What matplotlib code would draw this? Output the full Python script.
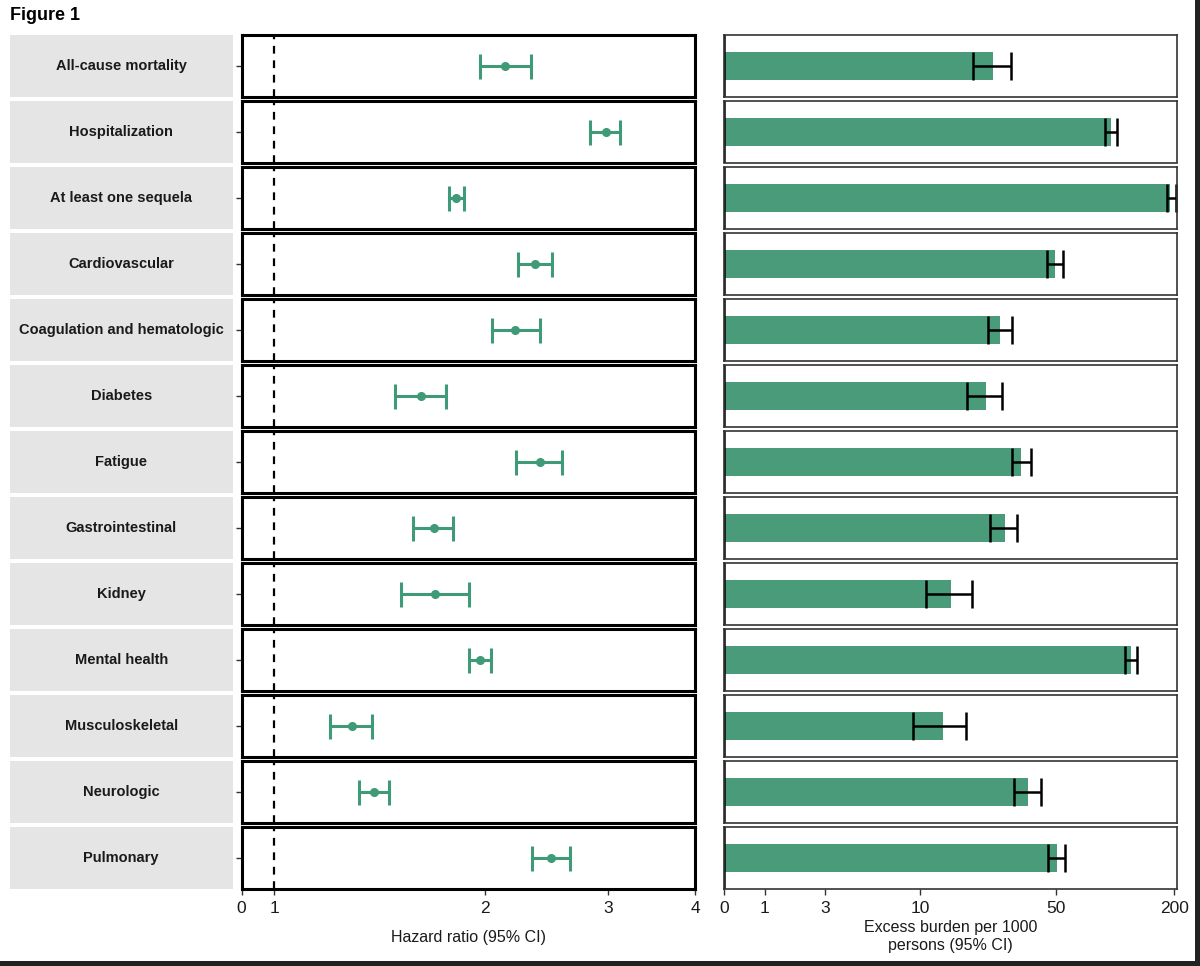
"""
Figure 1: hazard ratios and excess burden per 1000 persons, one row per outcome.
"""

import numpy as np
import matplotlib
matplotlib.use("Agg")
import matplotlib.pyplot as plt
from matplotlib.patches import Rectangle

plt.rcParams["font.family"] = ["Liberation Sans", "DejaVu Sans"]

outcomes = [
    "All-cause mortality", "Hospitalization", "At least one sequela",
    "Cardiovascular", "Coagulation and hematologic", "Diabetes", "Fatigue",
    "Gastrointestinal", "Kidney", "Mental health", "Musculoskeletal",
    "Neurologic", "Pulmonary",
]

hr = [2.14, 2.98, 1.82, 2.36, 2.21, 1.62, 2.40, 1.69, 1.70, 1.97, 1.29, 1.39, 2.49]
hr_lo = [1.97, 2.83, 1.78, 2.23, 2.05, 1.49, 2.22, 1.58, 1.52, 1.90, 1.20, 1.32, 2.34]
hr_hi = [2.33, 3.12, 1.87, 2.50, 2.40, 1.76, 2.58, 1.80, 1.90, 2.04, 1.38, 1.46, 2.65]

burden = [23.8, 95.0, 191.0, 49.1, 25.7, 21.8, 32.9, 27.2, 14.4, 120.0, 13.1, 35.7, 50.3]
burden_lo = [18.8, 88.8, 184.0, 44.7, 22.3, 17.4, 29.6, 22.8, 10.7, 112.0, 9.1, 30.3, 45.4]
burden_hi = [29.2, 101.9, 205.0, 53.9, 29.6, 26.3, 37.0, 31.4, 18.4, 129.0, 17.2, 41.6, 55.4]

hr_ticks = [1, 2, 3, 4]
burden_ticks = [0, 1, 3, 10, 50, 200]

HR_MIN = 0.897
HR_MAX = 4.0
EB_MAX = 207

point_color = "#3f9b77"
bar_color = "#4a9b7a"

W, H = 1200, 966
fig = plt.figure(figsize=(W / 100, H / 100), dpi=100)


def px_axes(x0, y0, x1, y1):
    # pixel box (top-left origin) -> figure axes
    return fig.add_axes([x0 / W, 1 - y1 / H, (x1 - x0) / W, (y1 - y0) / H])


fig.text(10 / W, 1 - 16 / H, "Figure 1", fontsize=13, fontweight="bold",
         va="center", ha="left")

top0, pitch, row_h = 35, 66, 61.5
n = len(outcomes)

for i, name in enumerate(outcomes):
    y0 = top0 + i * pitch
    y1 = y0 + row_h
    last = i == n - 1

    # strip
    sax = px_axes(9.5, y0, 233, y1)
    sax.set_facecolor("#e5e5e5")
    sax.set_xticks([])
    sax.set_yticks([])
    for s in sax.spines.values():
        s.set_visible(False)
    sax.text(0.5, 0.5, name, transform=sax.transAxes, ha="center",
             va="center", fontsize=10.5, fontweight="bold", color="#1a1a1a")

    # hazard ratio panel
    ax = px_axes(241.5, y0, 695, y1)
    ax.set_xscale("log")
    ax.set_xlim(HR_MIN, HR_MAX)
    ax.set_ylim(-1, 1)
    ax.axvline(1, color="black", lw=1.6, ls=(0, (3.5, 3)))
    ax.errorbar([hr[i]], [0], xerr=[[hr[i] - hr_lo[i]], [hr_hi[i] - hr[i]]],
                fmt="o", color=point_color, ms=5.5, elinewidth=2.2,
                capsize=9, capthick=2.2)
    for s in ax.spines.values():
        s.set_linewidth(2.2)
        s.set_color("black")
    ax.set_yticks([0])
    ax.set_yticklabels([""])
    ax.tick_params(axis="y", length=4, width=1, color="#333333")
    ax.xaxis.set_minor_locator(matplotlib.ticker.NullLocator())
    if last:
        ax.set_xticks([HR_MIN] + hr_ticks)
        ax.set_xticklabels(["0"] + [str(t) for t in hr_ticks])
        ax.tick_params(axis="x", length=4, width=1, color="#333333",
                       labelsize=12.5, labelcolor="#1a1a1a", pad=5)
        ax.set_xlabel("Hazard ratio (95% CI)", fontsize=11.5, color="#1a1a1a",
                      labelpad=10)
    else:
        ax.set_xticks([])

    # excess burden panel
    bx = px_axes(724, y0, 1177, y1)
    bx.set_xscale("asinh", linear_width=2)
    bx.set_xlim(0, EB_MAX)
    bx.set_ylim(-1, 1)
    bx.barh([0], [burden[i]], height=0.9, color=bar_color, zorder=1)
    bx.errorbar([burden[i]], [0],
                xerr=[[burden[i] - burden_lo[i]], [burden_hi[i] - burden[i]]],
                fmt="none", ecolor="black", elinewidth=1.8, capsize=10,
                capthick=1.8, zorder=2, clip_on=True)
    bx.axvline(0, color="black", lw=1.8)
    for s in bx.spines.values():
        s.set_linewidth(1.2)
        s.set_color("#333333")
    bx.set_yticks([])
    bx.xaxis.set_minor_locator(matplotlib.ticker.NullLocator())
    if last:
        bx.set_xticks(burden_ticks)
        bx.set_xticklabels([str(t) for t in burden_ticks])
        bx.tick_params(axis="x", length=4, width=1, color="#333333",
                       labelsize=12.5, labelcolor="#1a1a1a", pad=5)
        bx.set_xlabel("Excess burden per 1000\npersons (95% CI)", fontsize=11.5,
                      color="#1a1a1a", labelpad=3, linespacing=1.2)
    else:
        bx.set_xticks([])

# dark screenshot frame at the right and bottom edges
fig.patches.append(Rectangle((1195 / W, 0), 5 / W, 1, transform=fig.transFigure,
                             facecolor="#222222", edgecolor="none"))
fig.patches.append(Rectangle((0, 0), 1, 5 / H, transform=fig.transFigure,
                             facecolor="#222222", edgecolor="none"))

fig.savefig("out.png", dpi=100)
